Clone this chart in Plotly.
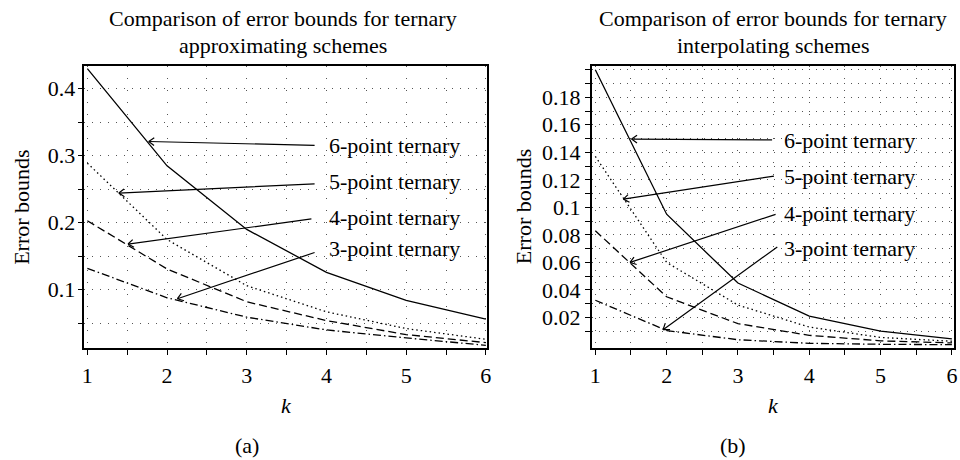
import math
import plotly.graph_objects as go

# ---------------- data ----------------
k = [1, 2, 3, 4, 5, 6]

# (a) approximating schemes
six_a = [0.430, 0.285, 0.190, 0.126, 0.084, 0.056]
five_a = [0.289, 0.175, 0.106, 0.067, 0.042, 0.026]
four_a = [0.203, 0.131, 0.082, 0.054, 0.033, 0.021]
three_a = [0.132, 0.088, 0.059, 0.040, 0.028, 0.017]

# (b) interpolating schemes
six_b = [0.200, 0.095, 0.045, 0.021, 0.010, 0.0045]
five_b = [0.137, 0.060, 0.029, 0.013, 0.0055, 0.0027]
four_b = [0.083, 0.035, 0.0155, 0.007, 0.003, 0.0015]
three_b = [0.0325, 0.0105, 0.0038, 0.0012, 0.0005, 0.0002]

labels = ["6-point ternary", "5-point ternary", "4-point ternary", "3-point ternary"]

x_ticks = [1, 1.5, 2, 2.5, 3, 3.5, 4, 4.5, 5, 5.5, 6]
x_ticktext = ["1", "", "2", "", "3", "", "4", "", "5", "", "6"]
ya_ticks = [0.05, 0.10, 0.15, 0.20, 0.25, 0.30, 0.35, 0.40]
ya_ticktext = ["", "0.1", "", "0.2", "", "0.3", "", "0.4"]
yb_ticks = [round(0.01 * i, 2) for i in range(1, 21)]
yb_ticktext = ["" if i % 2 else ("0.1" if i == 10 else f"{0.01*i:.2f}") for i in range(1, 21)]
yb_ticktext[-1] = ""

# annotation geometry (arrow tip, arrow tail, label anchor) in data units
a_tip_x = [1.77, 1.395, 1.51, 2.13]
a_tip_y = [0.3213, 0.2443, 0.1682, 0.0866]
a_tail_x = [3.87, 3.87, 3.83, 3.87]
a_tail_y = [0.3154, 0.2582, 0.206, 0.1563]
a_text_x = 4.01
a_text_y = [0.3146, 0.2616, 0.2082, 0.1612]

b_tip_x = [1.509, 1.394, 1.487, 1.95]
b_tip_y = [0.1496, 0.106, 0.060, 0.0111]
b_tail_x = [3.50, 3.526, 3.549, 3.573]
b_tail_y = [0.149, 0.1229, 0.0953, 0.072]
b_text_x = 3.62
b_text_y = [0.1483, 0.1224, 0.0953, 0.0704]

FONT = "Liberation Serif"
FS = 22
W, H = 960, 460

styles = ["solid", "1.5px,3px", "8px,4px", "8px,3px,1.5px,3px"]

# panel geometry (pixels) and ranges
A_X_PX, A_Y_PX = (82, 488), (66, 348)
B_X_PX, B_Y_PX = (593, 958), (66, 348)
A_XR, A_YR = [0.963, 6.02], [0.013, 0.434]
B_XR, B_YR = [0.949, 6.03], [-0.0022, 0.2027]

fig = go.Figure()
for series, st in zip([six_a, five_a, four_a, three_a], styles):
    fig.add_trace(go.Scatter(x=k, y=series, mode="lines", xaxis="x", yaxis="y",
                             line=dict(color="black", width=1.3, dash=st),
                             showlegend=False, hoverinfo="skip"))
for series, st in zip([six_b, five_b, four_b, three_b], styles):
    fig.add_trace(go.Scatter(x=k, y=series, mode="lines", xaxis="x2", yaxis="y2",
                             line=dict(color="black", width=1.3, dash=st),
                             showlegend=False, hoverinfo="skip"))

def px_x(p):
    return p / W

def px_y(p):
    return 1 - p / H

axis_common = dict(showline=True, linecolor="black", linewidth=1.5, mirror=True,
                   ticks="outside", ticklen=5, tickwidth=1.2, tickcolor="black",
                   zeroline=False, gridcolor="#555555", gridwidth=1,
                   tickfont=dict(family=FONT, size=FS, color="black"))

fig.update_layout(
    width=W, height=H, autosize=False,
    margin=dict(l=0, r=0, t=0, b=0),
    paper_bgcolor="white", plot_bgcolor="white",
    xaxis=dict(domain=[px_x(A_X_PX[0]), px_x(A_X_PX[1])], range=A_XR, anchor="y",
               tickmode="array", tickvals=x_ticks, ticktext=x_ticktext,
               griddash="1px,11px", ticklabelstandoff=2, **axis_common),
    yaxis=dict(domain=[px_y(A_Y_PX[1]), px_y(A_Y_PX[0])], range=A_YR, anchor="x",
               tickmode="array", tickvals=ya_ticks, ticktext=ya_ticktext,
               griddash="1px,7px", ticklabelstandoff=-2, **axis_common),
    xaxis2=dict(domain=[px_x(B_X_PX[0]), px_x(B_X_PX[1])], range=B_XR, anchor="y2",
                tickmode="array", tickvals=x_ticks, ticktext=x_ticktext,
                griddash="1px,11px", ticklabelstandoff=2, **axis_common),
    yaxis2=dict(domain=[px_y(B_Y_PX[1]), px_y(B_Y_PX[0])], range=B_YR, anchor="x2",
                tickmode="array", tickvals=yb_ticks, ticktext=yb_ticktext,
                griddash="1px,6px", ticklabelstandoff=0, **axis_common),
)

ann = []
font = dict(family=FONT, size=FS, color="black")

def arrows(xr, yr, tx, ty, sx, sy, lx, ly, xpx, ypx, xrng, yrng):
    # pixel-per-unit scales of this panel
    kx = (xpx[1] - xpx[0]) / (xrng[1] - xrng[0])
    ky = (ypx[1] - ypx[0]) / (yrng[1] - yrng[0])
    out = []
    for i in range(4):
        # shaft
        out.append(dict(x=tx[i], y=ty[i], ax=sx[i], ay=sy[i], xref=xr, yref=yr,
                        axref=xr, ayref=yr, text="", showarrow=True,
                        arrowhead=0, arrowwidth=1.2, arrowcolor="black", standoff=0))
        # open V head: two short arms from the tip
        dx = (sx[i] - tx[i]) * kx
        dy = -(sy[i] - ty[i]) * ky
        n = math.hypot(dx, dy)
        ux, uy = dx / n, dy / n
        for ang in (0.62, -0.62):
            c, s = math.cos(ang), math.sin(ang)
            vx = ux * c - uy * s
            vy = ux * s + uy * c
            out.append(dict(x=tx[i], y=ty[i], xref=xr, yref=yr, ax=8.5 * vx, ay=8.5 * vy,
                            text="", showarrow=True, arrowhead=0, arrowwidth=1.2,
                            arrowcolor="black", standoff=0))
        out.append(dict(x=lx, y=ly[i], xref=xr, yref=yr, text=labels[i],
                        showarrow=False, xanchor="left", yanchor="middle", font=font))
    return out

ann += arrows("x", "y", a_tip_x, a_tip_y, a_tail_x, a_tail_y, a_text_x, a_text_y,
              A_X_PX, A_Y_PX, A_XR, A_YR)
ann += arrows("x2", "y2", b_tip_x, b_tip_y, b_tail_x, b_tail_y, b_text_x, b_text_y,
              B_X_PX, B_Y_PX, B_XR, B_YR)

def ptext(text, cx, cy, angle=0, italic=False):
    f = dict(font)
    if italic:
        f["style"] = "italic"
    return dict(x=px_x(cx), y=px_y(cy), xref="paper", yref="paper", text=text,
                showarrow=False, xanchor="center", yanchor="middle",
                textangle=angle, font=f)

ann += [
    ptext("Comparison of error bounds for ternary", 282, 19),
    ptext("approximating schemes", 282, 46),
    ptext("Comparison of error bounds for ternary", 776, 19),
    ptext("interpolating schemes", 776, 46),
    ptext("Error bounds", 19, 207, angle=-90),
    ptext("Error bounds", 525, 207, angle=-90),
    ptext("k", 286, 405, italic=True),
    ptext("k", 776, 405, italic=True),
    ptext("(a)", 246, 445),
    ptext("(b)", 735, 445),
]
fig.update_layout(annotations=ann)

fig.write_html("out.html", config={"displayModeBar": False},
               post_script="document.body.style.margin='0px';document.body.style.overflow='hidden';")
